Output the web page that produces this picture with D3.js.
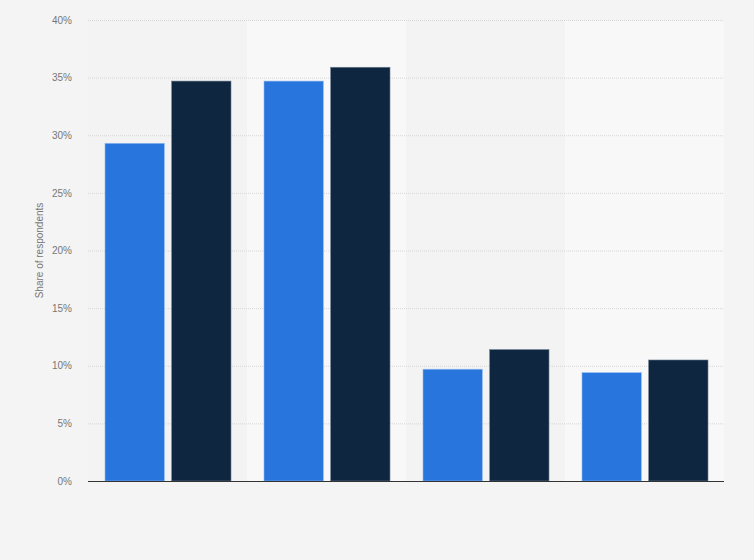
<!DOCTYPE html>
<html>
<head>
<meta charset="utf-8">
<script src="https://cdn.jsdelivr.net/npm/d3@7"></script>
<style>
  body { margin: 0; background: #f4f4f4; }
  svg { display: block; font-family: "Liberation Sans", Arial, sans-serif; }
</style>
</head>
<body>
<div id="chart"></div>
<script>
// DATA
let categories = ['Group A', 'Group B', 'Group C', 'Group D']
let seriesNames = ['Series 1', 'Series 2']
let series1 = [29.3, 34.7, 9.7, 9.4]
let series2 = [34.7, 35.9, 11.4, 10.5]
let yTicks = [0, 5, 10, 15, 20, 25, 30, 35, 40]

// CHART SETUP
let width = 754, height = 560
let margin = { top: 20, right: 30, bottom: 79, left: 88 }
let innerW = width - margin.left - margin.right
let innerH = height - margin.top - margin.bottom

let svg = d3.select('#chart')
  .append('svg')
  .attr('width', width)
  .attr('height', height)

svg.append('rect')
  .attr('width', width)
  .attr('height', height)
  .attr('fill', '#f4f4f4')

let g = svg.append('g')
  .attr('transform', 'translate(' + margin.left + ',' + margin.top + ')')

let x = d3.scaleBand().domain(categories).range([0, innerW]).padding(0)
let y = d3.scaleLinear().domain([0, 40]).range([innerH, 0])
let colors = ['#2876dd', '#0f2640']

// alternating column bands
g.selectAll('.band')
  .data(categories)
  .enter().append('rect')
  .attr('class', 'band')
  .attr('x', d => x(d))
  .attr('y', 0)
  .attr('width', x.bandwidth())
  .attr('height', innerH)
  .attr('fill', (d, i) => i % 2 === 1 ? '#f8f8f8' : '#f3f3f3')

// gridlines
g.selectAll('.grid')
  .data(yTicks.filter(t => t > 0))
  .enter().append('line')
  .attr('x1', 0)
  .attr('x2', innerW)
  .attr('y1', d => y(d) + 0.5)
  .attr('y2', d => y(d) + 0.5)
  .attr('stroke', '#d6d6d6')
  .attr('stroke-width', 1)
  .attr('stroke-dasharray', '1,1')

// y axis labels
let yAxis = d3.axisLeft(y)
  .tickValues(yTicks)
  .tickFormat(d => d + '%')
  .tickSize(0)
  .tickPadding(16)

let yg = g.append('g').call(yAxis)
yg.select('.domain').remove()
yg.selectAll('text')
  .attr('fill', '#777')
  .style('font-size', '10px')

// bars
let x1 = d3.scaleBand().domain(seriesNames).range([17, x.bandwidth() - 16]).paddingInner(0.11)
let rows = categories.map((c, i) => ({ cat: c, vals: [series1[i], series2[i]] }))

let groups = g.selectAll('.cat')
  .data(rows)
  .enter().append('g')
  .attr('class', 'cat')
  .attr('transform', d => 'translate(' + x(d.cat) + ',0)')

groups.selectAll('rect')
  .data(d => d.vals.map((v, j) => ({ name: seriesNames[j], v: v, j: j })))
  .enter().append('rect')
  .attr('x', d => x1(d.name))
  .attr('y', d => y(d.v))
  .attr('width', x1.bandwidth())
  .attr('height', d => innerH - y(d.v))
  .attr('fill', d => colors[d.j])
  .attr('stroke', d => d.j === 0 ? '#8fb8ee' : '#6b7d91')
  .attr('stroke-width', 0.6)

// baseline
g.append('line')
  .attr('x1', 0)
  .attr('x2', innerW)
  .attr('y1', innerH + 0.5)
  .attr('y2', innerH + 0.5)
  .attr('stroke', '#333')
  .attr('stroke-width', 1.2)

// y axis title
svg.append('text')
  .attr('transform', 'translate(43,' + (margin.top + innerH / 2) + ') rotate(-90)')
  .attr('text-anchor', 'middle')
  .attr('fill', '#777')
  .style('font-size', '10px')
  .text('Share of respondents')
</script>
</body>
</html>
